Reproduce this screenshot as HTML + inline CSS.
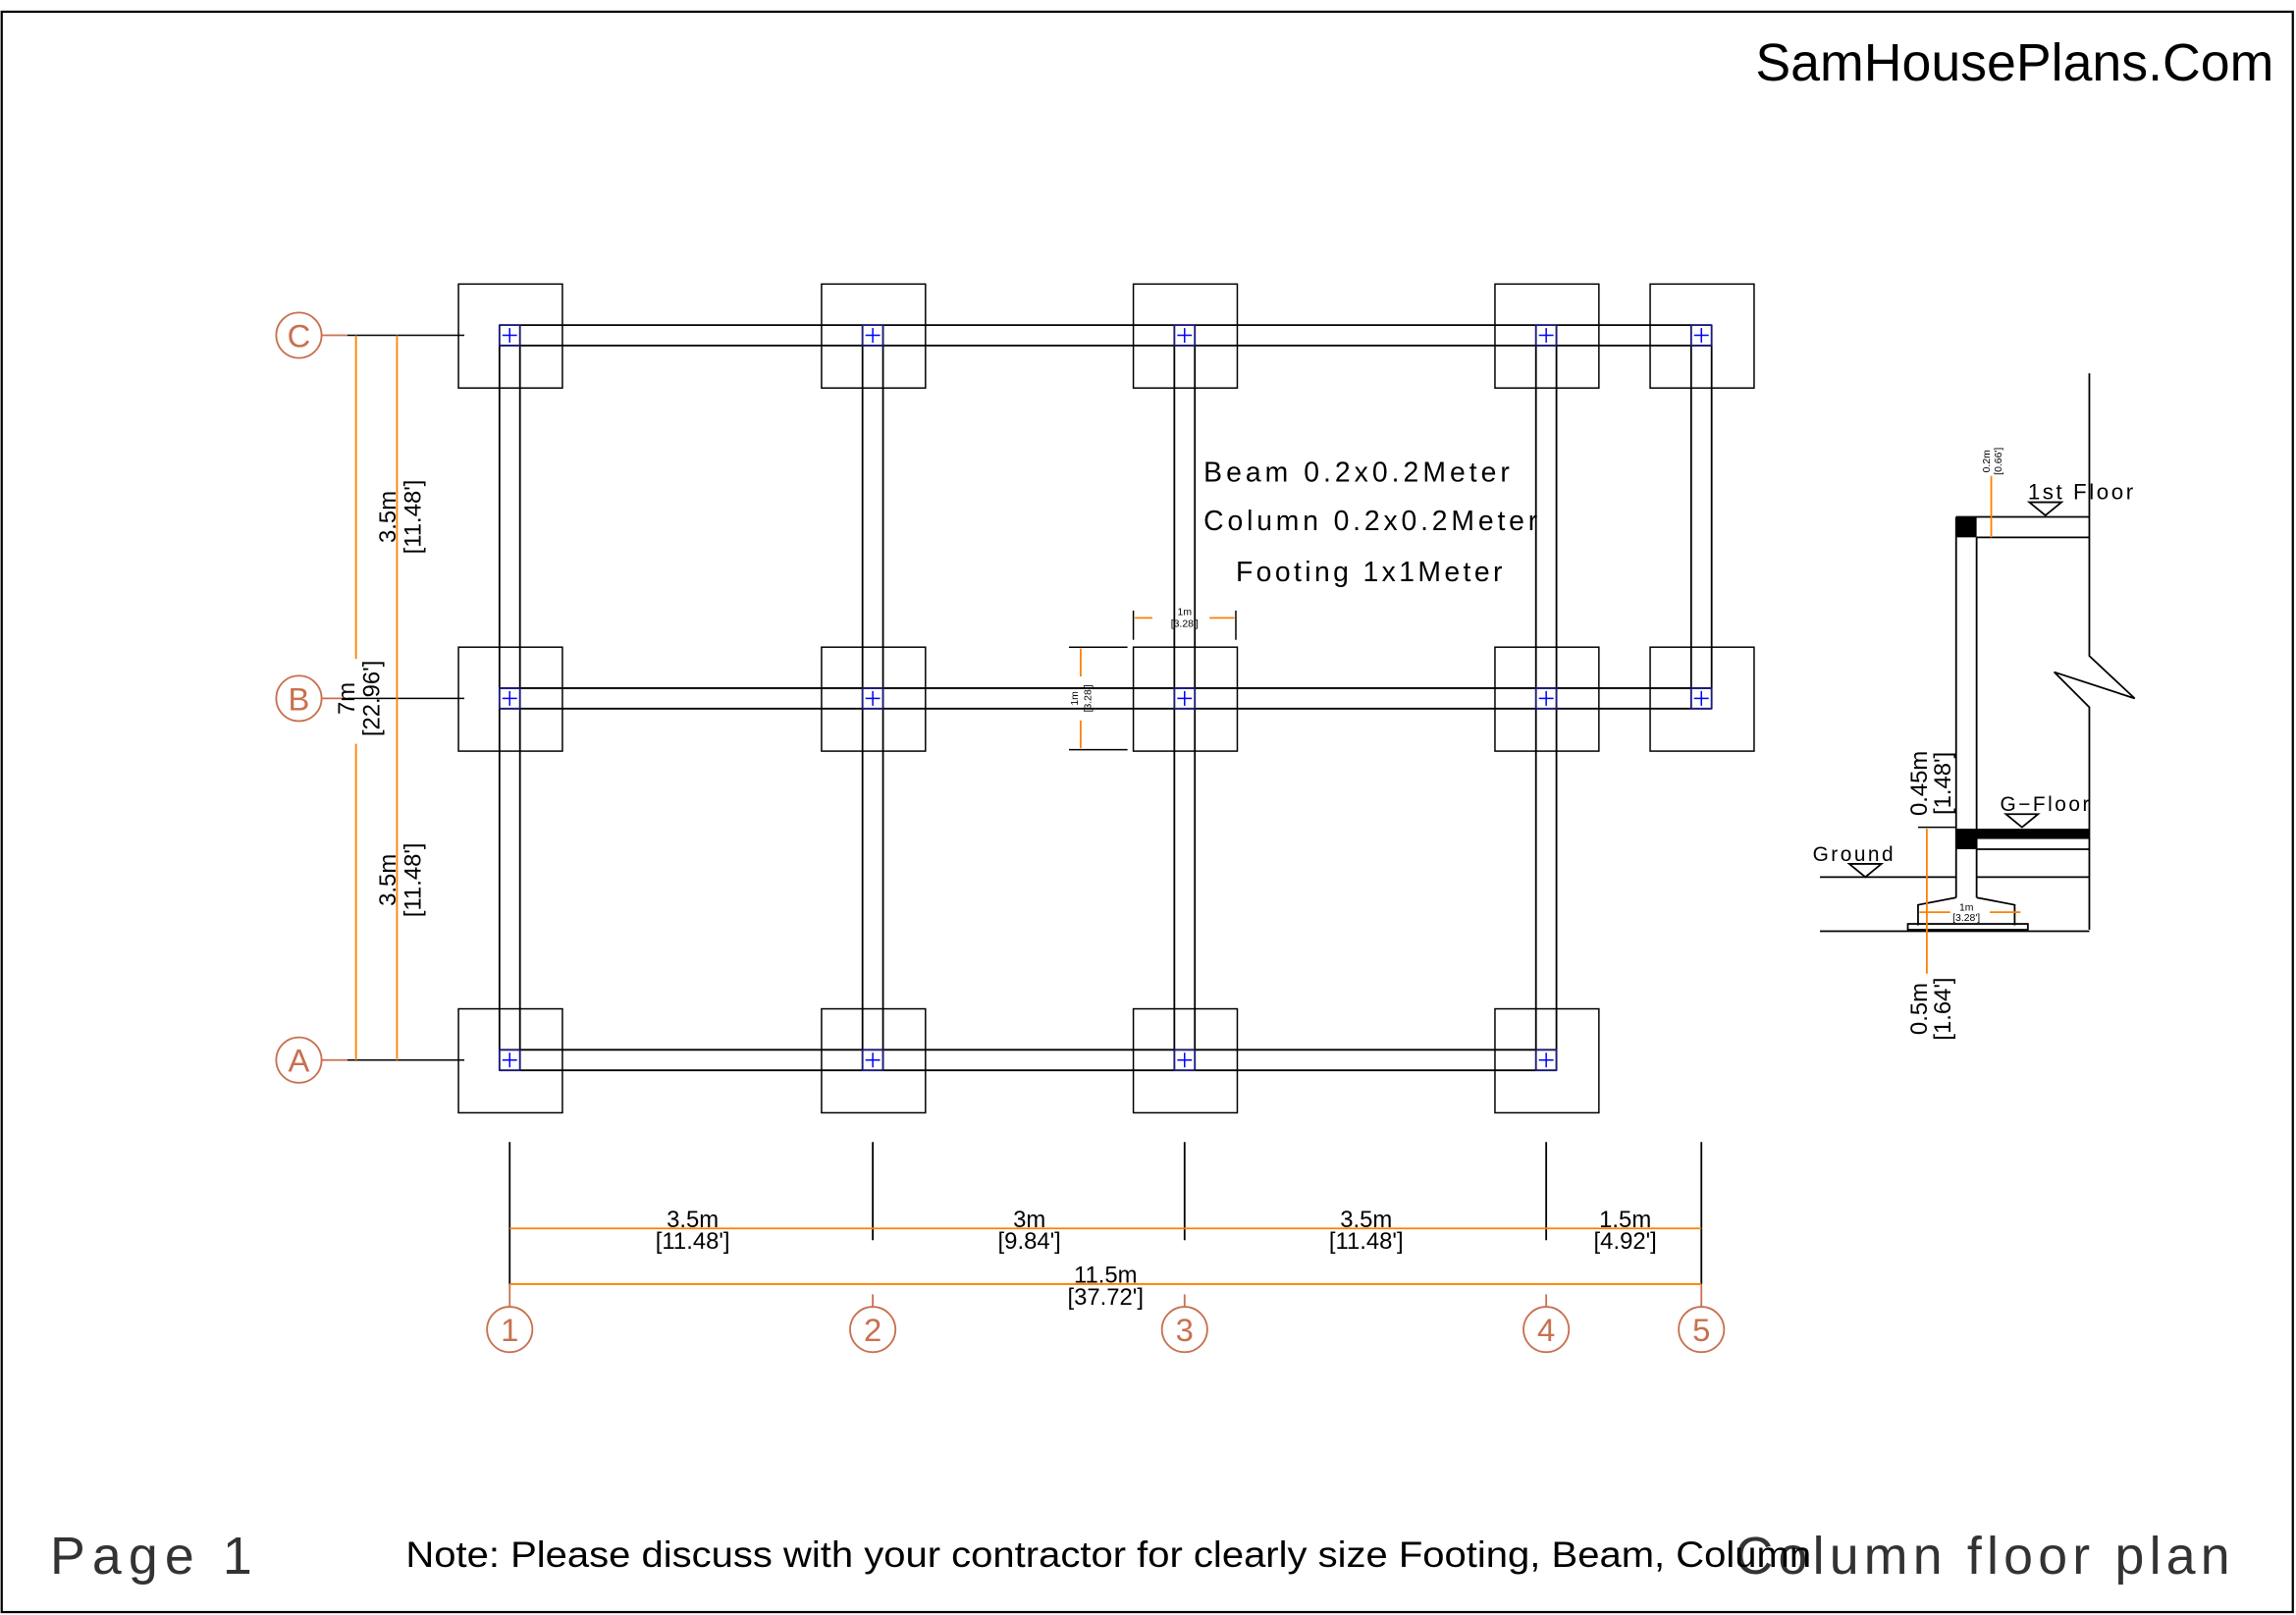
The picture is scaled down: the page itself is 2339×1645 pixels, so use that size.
<!DOCTYPE html>
<html><head><meta charset="utf-8"><style>
html,body{margin:0;padding:0;background:#fff;}
svg{display:block;}
text{font-family:"Liberation Sans",sans-serif;}
</style></head><body>
<svg width="2339" height="1645" viewBox="0 0 1568 1103" xmlns="http://www.w3.org/2000/svg">
<rect x="0" y="0" width="1568" height="1103" fill="#fff"/>
<rect x="1" y="8" width="1565" height="1093" fill="none" stroke="#000" stroke-width="1.5"/>
<text x="1553" y="55" font-size="36" text-anchor="end" fill="#000">SamHousePlans.Com</text>

<g fill="none" stroke="#000" stroke-width="1">
<rect x="313" y="194" width="71" height="71"/><rect x="561" y="194" width="71" height="71"/><rect x="774" y="194" width="71" height="71"/><rect x="1021" y="194" width="71" height="71"/><rect x="1127" y="194" width="71" height="71"/>
<rect x="313" y="442" width="71" height="71"/><rect x="561" y="442" width="71" height="71"/><rect x="774" y="442" width="71" height="71"/><rect x="1021" y="442" width="71" height="71"/><rect x="1127" y="442" width="71" height="71"/>
<rect x="313" y="689" width="71" height="71"/><rect x="561" y="689" width="71" height="71"/><rect x="774" y="689" width="71" height="71"/><rect x="1021" y="689" width="71" height="71"/>
</g>
<g stroke="#000" stroke-width="1.2" fill="none">
<line x1="341" y1="222" x2="1169" y2="222"/><line x1="341" y1="236" x2="1169" y2="236"/>
<line x1="341" y1="470" x2="1169" y2="470"/><line x1="341" y1="484" x2="1169" y2="484"/>
<line x1="341" y1="717" x2="1063" y2="717"/><line x1="341" y1="731" x2="1063" y2="731"/>
<line x1="341" y1="222" x2="341" y2="731"/><line x1="355" y1="222" x2="355" y2="731"/>
<line x1="589" y1="222" x2="589" y2="731"/><line x1="603" y1="222" x2="603" y2="731"/>
<line x1="802" y1="222" x2="802" y2="731"/><line x1="816" y1="222" x2="816" y2="731"/>
<line x1="1049" y1="222" x2="1049" y2="731"/><line x1="1063" y1="222" x2="1063" y2="731"/>
<line x1="1155" y1="222" x2="1155" y2="484"/><line x1="1169" y1="222" x2="1169" y2="484"/>
</g>
<g stroke="#1a1a8a" stroke-width="1" fill="none">
<rect x="341" y="222" width="14" height="14"/><rect x="589" y="222" width="14" height="14"/><rect x="802" y="222" width="14" height="14"/><rect x="1049" y="222" width="14" height="14"/><rect x="1155" y="222" width="14" height="14"/>
<rect x="341" y="470" width="14" height="14"/><rect x="589" y="470" width="14" height="14"/><rect x="802" y="470" width="14" height="14"/><rect x="1049" y="470" width="14" height="14"/><rect x="1155" y="470" width="14" height="14"/>
<rect x="341" y="717" width="14" height="14"/><rect x="589" y="717" width="14" height="14"/><rect x="802" y="717" width="14" height="14"/><rect x="1049" y="717" width="14" height="14"/>
</g>
<g stroke="#0000ff" stroke-width="1">
<path d="M343 229h10M348 224v10M591 229h10M596 224v10M804 229h10M809 224v10M1051 229h10M1056 224v10M1157 229h10M1162 224v10"/>
<path d="M343 477h10M348 472v10M591 477h10M596 472v10M804 477h10M809 472v10M1051 477h10M1056 472v10M1157 477h10M1162 472v10"/>
<path d="M343 724h10M348 719v10M591 724h10M596 719v10M804 724h10M809 719v10M1051 724h10M1056 719v10"/>
</g>

<text x="822" y="329" font-size="19" textLength="209" lengthAdjust="spacing">Beam  0.2x0.2Meter</text>
<text x="822" y="362" font-size="19" textLength="228" lengthAdjust="spacing">Column  0.2x0.2Meter</text>
<text x="844" y="397" font-size="19" textLength="182" lengthAdjust="spacing">Footing  1x1Meter</text>

<g stroke="#000" stroke-width="1"><line x1="774" y1="417" x2="774" y2="437"/><line x1="844" y1="417" x2="844" y2="437"/><line x1="730" y1="442" x2="770" y2="442"/><line x1="730" y1="512" x2="770" y2="512"/></g>
<g stroke="#ff8000" stroke-width="1.2"><line x1="775" y1="422" x2="787" y2="422"/><line x1="826" y1="422" x2="843" y2="422"/><line x1="738" y1="443" x2="738" y2="462"/><line x1="738" y1="492" x2="738" y2="511"/></g>
<text x="809" y="420" font-size="7" text-anchor="middle">1m</text><text x="809" y="428" font-size="7" text-anchor="middle">[3.28']</text>
<text transform="translate(736,477) rotate(-90)" font-size="7" text-anchor="middle">1m</text>
<text transform="translate(745,477) rotate(-90)" font-size="7" text-anchor="middle">[3.28']</text>

<g stroke="#000" stroke-width="1"><line x1="237" y1="229" x2="317" y2="229"/><line x1="237" y1="477" x2="317" y2="477"/><line x1="237" y1="724" x2="317" y2="724"/></g>
<g stroke="#c8704f" stroke-width="1.2" fill="none">
<line x1="219" y1="229" x2="237" y2="229"/><line x1="219" y1="477" x2="237" y2="477"/><line x1="219" y1="724" x2="237" y2="724"/>
<circle cx="204" cy="229" r="15.5"/><circle cx="204" cy="477" r="15.5"/><circle cx="204" cy="724" r="15.5"/>
<circle cx="348" cy="908" r="15.5"/><circle cx="596" cy="908" r="15.5"/><circle cx="809" cy="908" r="15.5"/><circle cx="1056" cy="908" r="15.5"/><circle cx="1162" cy="908" r="15.5"/>
<line x1="348" y1="877" x2="348" y2="892"/><line x1="596" y1="884" x2="596" y2="892"/><line x1="809" y1="884" x2="809" y2="892"/><line x1="1056" y1="884" x2="1056" y2="892"/><line x1="1162" y1="877" x2="1162" y2="892"/>
</g>
<g fill="#c8704f" font-size="22" text-anchor="middle">
<text x="204" y="237">C</text><text x="204" y="485">B</text><text x="204" y="732">A</text>
<text x="348" y="916">1</text><text x="596" y="916">2</text><text x="809" y="916">3</text><text x="1056" y="916">4</text><text x="1162" y="916">5</text>
</g>
<g stroke="#ff8000" stroke-width="1.2">
<line x1="243" y1="229" x2="243" y2="450"/><line x1="243" y1="508" x2="243" y2="724"/>
<line x1="271" y1="229" x2="271" y2="724"/>
</g>
<text transform="translate(270,353) rotate(-90)" font-size="16" text-anchor="middle">3.5m</text>
<text transform="translate(287,353) rotate(-90)" font-size="16" text-anchor="middle">[11.48']</text>
<text transform="translate(270,601) rotate(-90)" font-size="16" text-anchor="middle">3.5m</text>
<text transform="translate(287,601) rotate(-90)" font-size="16" text-anchor="middle">[11.48']</text>
<text transform="translate(242,477) rotate(-90)" font-size="16" text-anchor="middle">7m</text>
<text transform="translate(259,477) rotate(-90)" font-size="16" text-anchor="middle">[22.96']</text>

<g stroke="#000" stroke-width="1.2">
<line x1="348" y1="780" x2="348" y2="877"/><line x1="596" y1="780" x2="596" y2="847"/><line x1="809" y1="780" x2="809" y2="847"/><line x1="1056" y1="780" x2="1056" y2="847"/><line x1="1162" y1="780" x2="1162" y2="877"/>
</g>
<g stroke="#ff8000" stroke-width="1.2">
<line x1="348" y1="839" x2="1162" y2="839"/><line x1="348" y1="877" x2="1162" y2="877"/>
</g>
<g font-size="16" text-anchor="middle">
<rect x="440" y="826" width="66" height="12" fill="#fff"/><text x="473" y="838">3.5m</text><text x="473" y="853">[11.48']</text>
<rect x="675" y="826" width="56" height="12" fill="#fff"/><text x="703" y="838">3m</text><text x="703" y="853">[9.84']</text>
<rect x="900" y="826" width="66" height="12" fill="#fff"/><text x="933" y="838">3.5m</text><text x="933" y="853">[11.48']</text>
<rect x="1082" y="826" width="56" height="12" fill="#fff"/><text x="1110" y="838">1.5m</text><text x="1110" y="853">[4.92']</text>
<rect x="722" y="864" width="66" height="12" fill="#fff"/><text x="755" y="876">11.5m</text><text x="755" y="891">[37.72']</text>
</g>

<g stroke="#000" stroke-width="1.2" fill="none">
<path d="M1427 255V448L1458 477L1403 459L1427 483V635"/>
<line x1="1336" y1="353" x2="1427" y2="353"/><line x1="1350" y1="367" x2="1427" y2="367"/>
<line x1="1336" y1="353" x2="1336" y2="613"/><line x1="1350" y1="367" x2="1350" y2="613"/>
<line x1="1243" y1="599" x2="1336" y2="599"/><line x1="1350" y1="599" x2="1427" y2="599"/>
<line x1="1350" y1="580" x2="1427" y2="580"/>
<path d="M1336 613L1310 618V632M1350 613L1376 618V632"/>
<rect x="1303" y="631" width="82" height="4"/>
<line x1="1243" y1="636" x2="1427" y2="636"/>
<path d="M1386 343h22l-11 9z M1370 556h22l-11 9z M1263 590h22l-11 9z"/>
</g>
<rect x="1336" y="353" width="14" height="14" fill="#000"/>
<rect x="1336" y="566" width="14" height="14" fill="#000"/>
<rect x="1350" y="566" width="77" height="7" fill="#000"/>
<g stroke="#ff8000" stroke-width="1.2">
<line x1="1360" y1="325" x2="1360" y2="367"/>
<line x1="1316" y1="566" x2="1316" y2="665"/>
<line x1="1311" y1="623" x2="1332" y2="623"/><line x1="1359" y1="623" x2="1380" y2="623"/>
</g>
<line x1="1310" y1="565" x2="1336" y2="565" stroke="#000"/>
<text x="1385" y="341" font-size="15" textLength="72" lengthAdjust="spacing">1st  Floor</text>
<text x="1366" y="554" font-size="14" textLength="61" lengthAdjust="spacing">G−Floor</text>
<text x="1238" y="588" font-size="14" textLength="55" lengthAdjust="spacing">Ground</text>
<text x="1343" y="622" font-size="7" text-anchor="middle">1m</text><text x="1343" y="629" font-size="7" text-anchor="middle">[3.28']</text>
<text transform="translate(1359,315) rotate(-90)" font-size="7" text-anchor="middle">0.2m</text>
<text transform="translate(1367,315) rotate(-90)" font-size="7" text-anchor="middle">[0.66']</text>
<text transform="translate(1316,535) rotate(-90)" font-size="16" text-anchor="middle">0.45m</text>
<text transform="translate(1332,535) rotate(-90)" font-size="16" text-anchor="middle">[1.48']</text>
<text transform="translate(1316,689) rotate(-90)" font-size="16" text-anchor="middle">0.5m</text>
<text transform="translate(1332,689) rotate(-90)" font-size="16" text-anchor="middle">[1.64']</text>

<text x="34" y="1075" font-size="36" fill="#333" textLength="138" lengthAdjust="spacing">Page  1</text>
<text x="1185" y="1075" font-size="36" fill="#333" textLength="338" lengthAdjust="spacing">Column  floor  plan</text>
<text x="277" y="1070" font-size="25" fill="#000" textLength="960" lengthAdjust="spacingAndGlyphs">Note: Please discuss with your contractor for clearly size Footing, Beam, Column</text>
</svg>
</body></html>
